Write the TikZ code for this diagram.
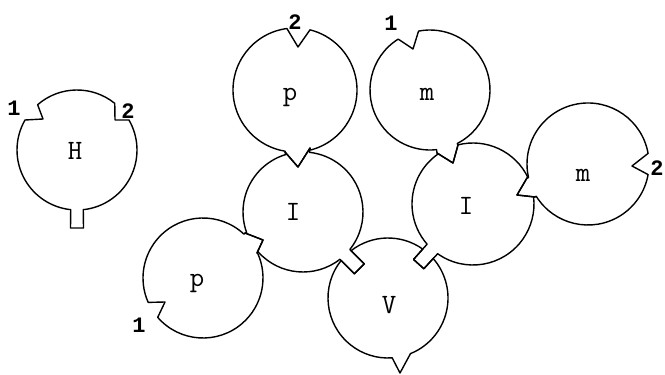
\documentclass[tikz,border=0pt]{standalone}
\usepackage{fontspec}
\newfontfamily\numfont{Liberation Mono}
\usepackage{tikz}
\usetikzlibrary{calc}

\begin{document}
\begin{tikzpicture}[x=1pt,y=1pt,
  atom/.style={line width=1.4pt,line join=round},
  lbl/.style={font=\fontsize{28}{28}\selectfont\ttfamily},
  val/.style={font=\fontsize{22}{22}\selectfont\numfont\bfseries}]
\useasboundingbox (0,0) rectangle (665,375);
% centres of the atoms
\coordinate (H) at (77,225);
\coordinate (pT) at (295,285);
\coordinate (mT) at (430,285);
\coordinate (mR) at (588,211);
\coordinate (IL) at (303,163);
\coordinate (IR) at (473,171);
\coordinate (pB) at (203,97);
\coordinate (V) at (388,77);
% free notches and plug
\coordinate (nH1) at (43,256);
\coordinate (nH2) at (115,255);
\coordinate (npT) at (298,328);
\coordinate (nmT) at (413,326);
\coordinate (nmR) at (632,209);
\coordinate (npB) at (165,73);
\coordinate (tV) at (400,2);
% joints
\coordinate (j1a) at (285,223); \coordinate (j1t) at (298,208); \coordinate (j1b) at (310,227);
\coordinate (j2a) at (437,222); \coordinate (j2t) at (453,212); \coordinate (j2b) at (458,230);
\coordinate (j3a) at (527,197); \coordinate (j3t) at (517,180); \coordinate (j3b) at (535,178);
\coordinate (j4a) at (245,142); \coordinate (j4t) at (263,135); \coordinate (j4b) at (257,122);
% stems into V
\coordinate (s5L) at ([shift={(-52:60)}]IL); \coordinate (s5R) at ([shift={(-38.6:60)}]IL);
\coordinate (f5L) at ([shift={(-50.3:80.3)}]IL); \coordinate (f5R) at ([shift={(-40.3:80.3)}]IL);
\coordinate (s6A) at ([shift={(221.2:61)}]IR); \coordinate (s6B) at ([shift={(234.6:61)}]IR);
\coordinate (f6A) at ([shift={(223:81.3)}]IR); \coordinate (f6B) at ([shift={(232.8:81.3)}]IR);

% H
\draw[atom] ([shift={(51:60)}]H) arc[start angle=51,end angle=131,radius=60]
  -- (nH1) -- ([shift={(150:60)}]H) arc[start angle=150,end angle=264,radius=60]
  -- ([shift={(-6.5,-78)}]H) -- ([shift={(6.5,-78)}]H)
  -- ([shift={(276:60)}]H) arc[start angle=276,end angle=390,radius=60]
  -- (nH2) -- cycle;
% p top
\draw[atom] ([shift={(97.5:62)}]pT) arc[start angle=97.5,end angle=260.8,radius=62]
  -- (j1a) -- (j1t) -- (j1b) -- ([shift={(284.5:62)}]pT) arc[start angle=284.5,end angle=436,radius=62]
  -- (npT) -- cycle;
% m top
\draw[atom] ([shift={(122:60)}]mT) arc[start angle=122,end angle=276.3,radius=60]
  -- (j2a) -- (j2t) -- (j2b) -- ([shift={(297:60)}]mT) arc[start angle=297,end angle=461,radius=60]
  -- (nmT) -- cycle;
% m right
\draw[atom] ([shift={(10:61)}]mR) arc[start angle=10,end angle=192.9,radius=61]
  -- (j3a) -- (j3t) -- (j3b) -- ([shift={(211.9:61)}]mR) arc[start angle=211.9,end angle=350,radius=61]
  -- (nmR) -- cycle;
% I left
\draw[atom] ([shift={(106.7:60)}]IL) arc[start angle=106.7,end angle=200,radius=60]
  -- (j4a) -- (j4t) -- (j4b) -- ([shift={(221.7:60)}]IL) arc[start angle=221.7,end angle=308,radius=60]
  -- (f5L) -- (f5R) -- (s5R) arc[start angle=321.4,end angle=443.8,radius=60]
  -- (j1b) -- (j1t) -- (j1a) -- cycle;
% I right
\draw[atom] ([shift={(25.7:61)}]IR) arc[start angle=25.7,end angle=104.3,radius=61]
  -- (j2b) -- (j2t) -- (j2a) -- ([shift={(125.2:61)}]IR) arc[start angle=125.2,end angle=221.2,radius=61]
  -- (f6A) -- (f6B) -- (s6B) arc[start angle=234.6,end angle=366.4,radius=61]
  -- (j3b) -- (j3t) -- (j3a) -- cycle;
% V
\draw[atom] ([shift={(292:60)}]V) arc[start angle=292,end angle=401.2,radius=60]
  -- (f6B) -- (f6A) -- ([shift={(54.6:60)}]V) arc[start angle=54.6,end angle=128,radius=60]
  -- (f5R) -- (f5L) -- ([shift={(141.4:60)}]V) arc[start angle=141.4,end angle=274,radius=60]
  -- (tV) -- cycle;
% p bottom
\draw[atom] ([shift={(47:60)}]pB) arc[start angle=47,end angle=204,radius=60]
  -- (npB) -- ([shift={(221:60)}]pB) arc[start angle=221,end angle=384.8,radius=60]
  -- (j4b) -- (j4t) -- (j4a) -- cycle;

% letters and valences
\foreach \n/\x/\y/\t in {aH/75/224/H, apT/290/278/p, amT/427/281/m, amR/583/200/m,
    aIL/293/163/I, aIR/466/169/I, aV/389/70/V, apB/197/92/p}
  \node[lbl] (\n) at (\x,\y) {\t};
\foreach \n/\x/\y/\t in {vH1/14/267/1, vH2/128/264/2, vpT/295/353/2, vmT/391/352/1,
    vmR/657/207/2, vpB/139/50/1}
  \node[val] (\n) at (\x,\y) {\t};
\end{tikzpicture}
\end{document}
